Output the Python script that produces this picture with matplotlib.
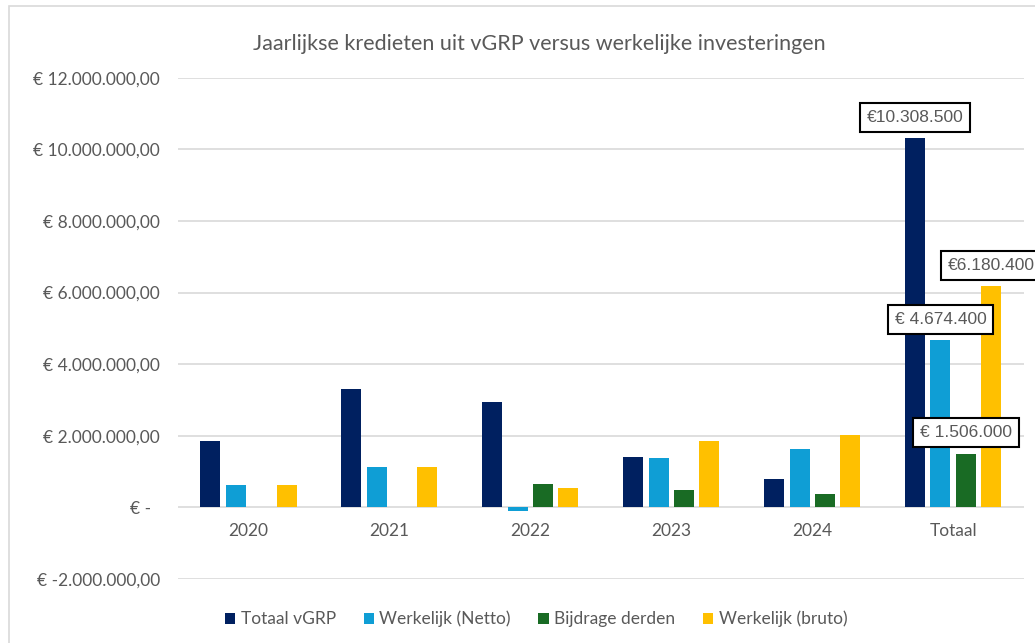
import numpy as np
import matplotlib.pyplot as plt
from matplotlib.patches import Rectangle

# data
categories = ['2020', '2021', '2022', '2023', '2024', 'Totaal']
totaal_vgrp = [1850000, 3300000, 2950000, 1420000, 790000, 10308500]
werkelijk_netto = [640000, 1120000, -110000, 1380000, 1644400, 4674400]
bijdrage_derden = [0, 0, 650000, 480000, 376000, 1506000]
werkelijk_bruto = [640000, 1120000, 540000, 1860000, 2020400, 6180400]
series_names = ['Totaal vGRP', 'Werkelijk (Netto)', 'Bijdrage derden', 'Werkelijk (bruto)']
y_ticks = [-2000000, 0, 2000000, 4000000, 6000000, 8000000, 10000000, 12000000]
total_labels = ['€10.308.500', '€ 4.674.400', '€ 1.506.000', '€6.180.400']

colors = ['#002060', '#0F9ED5', '#196B24', '#FFC000']
grey = '#595959'
plt.rcParams['font.family'] = ['Lato', 'DejaVu Sans']


def euro_fmt(v):
    if v == 0:
        return '€ -  '
    s = '{:,.2f}'.format(v).replace(',', 'X').replace('.', ',').replace('X', '.')
    return '€ ' + s


fig = plt.figure(figsize=(10.35, 6.43), dpi=100)
ax = fig.add_axes([0.172, 0.0995, 0.817, 0.7795])

#--bars--
x = np.arange(len(categories))
width = 0.142
step = 0.18
all_series = [totaal_vgrp, werkelijk_netto, bijdrage_derden, werkelijk_bruto]
for i, vals in enumerate(all_series):
    ax.bar(x + (i - 1.5) * step, vals, width=width, color=colors[i],
           label=series_names[i], zorder=3)

ax.set_xlim(-0.5, len(categories) - 0.5)
ax.set_ylim(-2000000, 12000000)
ax.set_yticks(y_ticks)
ax.set_yticklabels([euro_fmt(v) for v in y_ticks], fontsize=12.5, color=grey)
ax.tick_params(axis='y', length=0, pad=13)
ax.set_xticks([])
ax.grid(axis='y', color='#D9D9D9', linewidth=1.2, zorder=0)
for sp in ax.spines.values():
    sp.set_visible(False)

# category labels just below the zero line
for xi, c in zip(x, categories):
    ax.annotate(c, (xi, 0), xytext=(0, -24), textcoords='offset pixels',
                ha='center', va='center', fontsize=12.5, color=grey)

#--data labels on the Totaal group--
box = dict(boxstyle='square,pad=0.4', facecolor='white', edgecolor='black', linewidth=1.5)
last = len(categories) - 1
for i, vals in enumerate(all_series):
    ax.annotate(total_labels[i], (last + (i - 1.5) * step, vals[-1]), xytext=(0, 21),
                textcoords='offset pixels', ha='center', va='center', fontsize=12.5,
                color=grey, bbox=box, family=['Liberation Sans', 'DejaVu Sans'],
                zorder=5, annotation_clip=False)

fig.text(0.521, 0.932, 'Jaarlijkse kredieten uit vGRP versus werkelijke investeringen',
         ha='center', va='center', fontsize=15.5, color=grey)

leg = fig.legend(loc='center', bbox_to_anchor=(0.518, 0.037), ncol=4, frameon=False,
                 fontsize=12.5, handlelength=0.6, handleheight=0.6, handletextpad=0.3,
                 columnspacing=1.6)
for t in leg.get_texts():
    t.set_color(grey)

# outer chart frame
fig.patches.append(Rectangle((9 / 1035, -0.05), 1.2, 1 - 6 / 643 + 0.05,
                             transform=fig.transFigure, fill=False,
                             edgecolor='#D9D9D9', linewidth=1.2, zorder=0))

fig.savefig('out.png', dpi=100)
